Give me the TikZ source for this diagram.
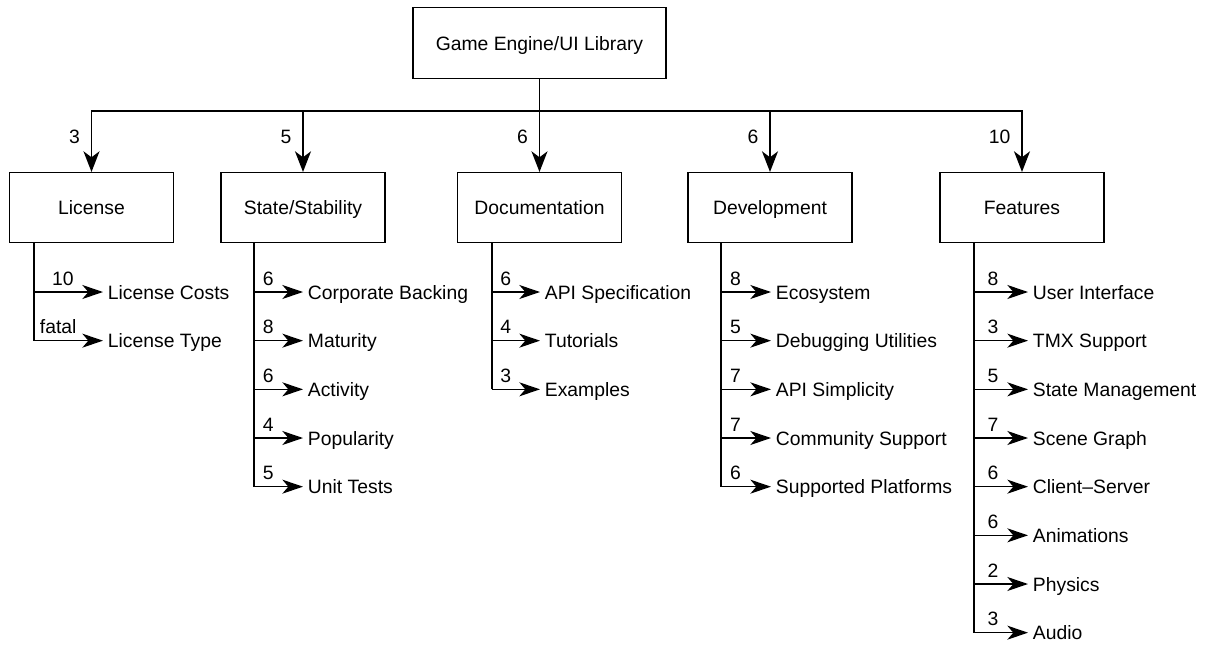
\documentclass[tikz,border=0pt]{standalone}
\usepackage{fontspec}
\setmainfont{Liberation Sans}
\usetikzlibrary{positioning,arrows.meta}
\tikzset{
    box/.style = {
        draw,
        line width=1.1pt,
        minimum width=123pt,
        minimum height=52.2pt,
        text height=10.5pt,
        text depth=0pt,
        font=\fontsize{14.5}{17}\selectfont,
        },
    root box/.style = {
        box,
        minimum width=189.75pt,
        minimum height=53.5pt,
        },
    leaf/.style = {
        anchor=west,
        inner xsep=3.5pt,
        inner ysep=0pt,
        text height=10.5pt,
        text depth=0pt,
        font=\fontsize{14.5}{17}\selectfont,
        },
    main/.style = {
        draw,
        line width=1.3pt,
        -{Stealth[length=15.5pt,width=12pt,inset=4.5pt]},
        },
    stem/.style = {
        draw,
        line width=1.4pt,
        },
    branch/.style = {
        draw,
        line width=1.1pt,
        -{Stealth[length=15.5pt,width=10.5pt,inset=4.5pt]},
        },
    weight/.style = {
        font=\fontsize{14.5}{17}\selectfont,
        inner sep=0pt,
        text depth=0pt,
        above=4.7pt,
        pos=0.29,
        },
    top weight/.style = {
        font=\fontsize{14.5}{17}\selectfont,
        inner sep=0pt,
        left=8pt,
        pos=0.71,
        },
}

\begin{document}
\begin{tikzpicture}[x=0.75pt, y=-0.75pt, node distance=36.5pt]
            \useasboundingbox (0,0) rectangle (1208,644);

            \node[root box] (root) at (539.5,43) {Game Engine/UI Library};
            \node[box] (lic) at (91.5,207.5) {License};
            \node[box] (stab) at (303,207.5) {State/Stability};
            \node[box] (doc) at (539.5,207.5) {Documentation};
            \node[box] (dev) at (770,207.5) {Development};
            \node[box] (feat) at (1022,207.5) {Features};

            \coordinate (bus) at (539.5,111);
            \path[stem] (root.south) -- (bus);
            \path[main] (bus) -| node[top weight] {3} (lic.north);
            \path[main] (bus) -| node[top weight] {5} (stab.north);
            \path[main] (bus) -- node[top weight, pos=0.42] {6} (doc.north);
            \path[main] (bus) -| node[top weight] {6} (dev.north);
            \path[main] (bus) -| node[top weight] {10} (feat.north);

            % License
            \coordinate (lic stem) at (34,0 |- lic.south);
            \node[leaf] (lic1) at (103,292) {License Costs};
            \node[below=of lic1.west, leaf] (lic2) {License Type};
            \path[stem] (lic stem) -- (lic stem |- lic2.west);
            \path[branch] (lic stem |- lic1.west) -- node[weight, pos=0.42] {10} (lic1.west);
            \path[branch] (lic stem |- lic2.west) -- node[weight, pos=0.35] {fatal} (lic2.west);

            % State/Stability
            \coordinate (stab stem) at (254,0 |- stab.south);
            \node[leaf] (stab1) at (303,292) {Corporate Backing};
            \node[below=of stab1.west, leaf] (stab2) {Maturity};
            \node[below=of stab2.west, leaf] (stab3) {Activity};
            \node[below=of stab3.west, leaf] (stab4) {Popularity};
            \node[below=of stab4.west, leaf] (stab5) {Unit Tests};
            \path[stem] (stab stem) -- (stab stem |- stab5.west);
            \path[branch] (stab stem |- stab1.west) -- node[weight] {6} (stab1.west);
            \path[branch] (stab stem |- stab2.west) -- node[weight] {8} (stab2.west);
            \path[branch] (stab stem |- stab3.west) -- node[weight] {6} (stab3.west);
            \path[branch] (stab stem |- stab4.west) -- node[weight] {4} (stab4.west);
            \path[branch] (stab stem |- stab5.west) -- node[weight] {5} (stab5.west);

            % Documentation
            \coordinate (doc stem) at (491.7,0 |- doc.south);
            \node[leaf] (doc1) at (540,292) {API Specification};
            \node[below=of doc1.west, leaf] (doc2) {Tutorials};
            \node[below=of doc2.west, leaf] (doc3) {Examples};
            \path[stem] (doc stem) -- (doc stem |- doc3.west);
            \path[branch] (doc stem |- doc1.west) -- node[weight] {6} (doc1.west);
            \path[branch] (doc stem |- doc2.west) -- node[weight] {4} (doc2.west);
            \path[branch] (doc stem |- doc3.west) -- node[weight] {3} (doc3.west);

            % Development
            \coordinate (dev stem) at (721,0 |- dev.south);
            \node[leaf] (dev1) at (771,292) {Ecosystem};
            \node[below=of dev1.west, leaf] (dev2) {Debugging Utilities};
            \node[below=of dev2.west, leaf] (dev3) {API Simplicity};
            \node[below=of dev3.west, leaf] (dev4) {Community Support};
            \node[below=of dev4.west, leaf] (dev5) {Supported Platforms};
            \path[stem] (dev stem) -- (dev stem |- dev5.west);
            \path[branch] (dev stem |- dev1.west) -- node[weight] {8} (dev1.west);
            \path[branch] (dev stem |- dev2.west) -- node[weight] {5} (dev2.west);
            \path[branch] (dev stem |- dev3.west) -- node[weight] {7} (dev3.west);
            \path[branch] (dev stem |- dev4.west) -- node[weight] {7} (dev4.west);
            \path[branch] (dev stem |- dev5.west) -- node[weight] {6} (dev5.west);

            % Features
            \coordinate (feat stem) at (974,0 |- feat.south);
            \node[leaf] (feat1) at (1028,292) {User Interface};
            \node[below=of feat1.west, leaf] (feat2) {TMX Support};
            \node[below=of feat2.west, leaf] (feat3) {State Management};
            \node[below=of feat3.west, leaf] (feat4) {Scene Graph};
            \node[below=of feat4.west, leaf] (feat5) {Client–Server};
            \node[below=of feat5.west, leaf] (feat6) {Animations};
            \node[below=of feat6.west, leaf] (feat7) {Physics};
            \node[below=of feat7.west, leaf] (feat8) {Audio};
            \path[stem] (feat stem) -- (feat stem |- feat8.west);
            \path[branch] (feat stem |- feat1.west) -- node[weight, pos=0.35] {8} (feat1.west);
            \path[branch] (feat stem |- feat2.west) -- node[weight, pos=0.35] {3} (feat2.west);
            \path[branch] (feat stem |- feat3.west) -- node[weight, pos=0.35] {5} (feat3.west);
            \path[branch] (feat stem |- feat4.west) -- node[weight, pos=0.35] {7} (feat4.west);
            \path[branch] (feat stem |- feat5.west) -- node[weight, pos=0.35] {6} (feat5.west);
            \path[branch] (feat stem |- feat6.west) -- node[weight, pos=0.35] {6} (feat6.west);
            \path[branch] (feat stem |- feat7.west) -- node[weight, pos=0.35] {2} (feat7.west);
            \path[branch] (feat stem |- feat8.west) -- node[weight, pos=0.35] {3} (feat8.west);
        \end{tikzpicture}
\end{document}
